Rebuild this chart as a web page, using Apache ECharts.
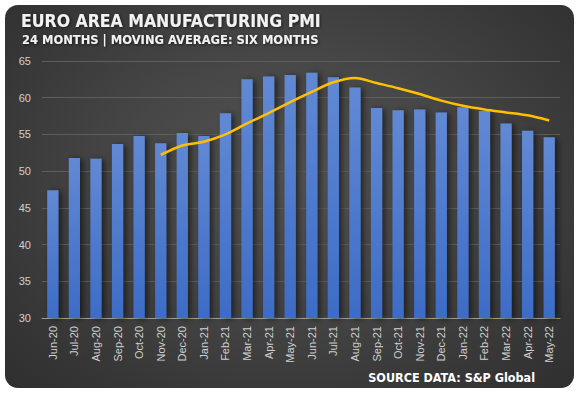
<!DOCTYPE html>
<html>
<head>
<meta charset="utf-8">
<script src="https://cdn.jsdelivr.net/npm/echarts@6/dist/echarts.min.js"></script>
<style>
html,body{margin:0;padding:0;background:#fff;width:577px;height:395px;overflow:hidden}
#panel{position:absolute;left:5px;top:5px;width:569px;height:383px;border-radius:13px;
background:radial-gradient(ellipse at 50% 45%, #545454 0%, #474747 40%, #363636 80%, #2f2f2f 100%);}
#chart{position:absolute;left:0;top:0;width:577px;height:395px}
</style>
</head>
<body>
<div id="panel"></div>
<div id="chart"></div>
<script>
var categories = ['Jun-20','Jul-20','Aug-20','Sep-20','Oct-20','Nov-20','Dec-20','Jan-21','Feb-21','Mar-21','Apr-21','May-21','Jun-21','Jul-21','Aug-21','Sep-21','Oct-21','Nov-21','Dec-21','Jan-22','Feb-22','Mar-22','Apr-22','May-22'];
var pmiValues = [47.4,51.8,51.7,53.7,54.8,53.8,55.2,54.8,57.9,62.5,62.9,63.1,63.4,62.8,61.4,58.6,58.3,58.4,58.0,58.7,58.2,56.5,55.5,54.6];
var movingAvg = [null,null,null,null,null,52.2,53.5,54.0,55.0,56.5,57.9,59.4,60.8,62.1,62.7,62.0,61.3,60.5,59.6,58.9,58.4,58.0,57.6,56.9];
var yTicks = {min:30, max:65, interval:5};

var chart = echarts.init(document.getElementById('chart'), null, {renderer:'svg'});
chart.setOption({
  backgroundColor:'transparent',
  animation:false,
  title:[
    {text:'EURO AREA MANUFACTURING PMI', left:21, top:12, padding:0,
     textStyle:{color:'#f2f2f2', fontFamily:'DejaVu Sans Condensed', fontWeight:'bold', fontSize:17.5,
       textShadowColor:'rgba(0,0,0,0.6)', textShadowBlur:3, textShadowOffsetX:1, textShadowOffsetY:1}},
    {text:'24 MONTHS | MOVING AVERAGE: SIX MONTHS', left:22, top:34, padding:0,
     textStyle:{color:'#f2f2f2', fontFamily:'DejaVu Sans', fontWeight:'bold', fontSize:11.5,
       textShadowColor:'rgba(0,0,0,0.6)', textShadowBlur:3, textShadowOffsetX:1, textShadowOffsetY:1}},
    {text:'SOURCE DATA: S&P Global', right:42, top:371, padding:0,
     textStyle:{color:'#ffffff', fontFamily:'DejaVu Sans Condensed', fontWeight:'bold', fontSize:12.5}}
  ],
  grid:{left:42, right:17, top:61, bottom:77},
  xAxis:{type:'category', data:categories,
    axisLine:{lineStyle:{color:'#a0a0a0', width:1}},
    axisTick:{show:false},
    axisLabel:{rotate:90, color:'#d0d0d0', fontFamily:'Liberation Sans', fontSize:11, margin:8, interval:0}
  },
  yAxis:{type:'value', min:yTicks.min, max:yTicks.max, interval:yTicks.interval,
    axisLine:{show:false}, axisTick:{show:false},
    axisLabel:{color:'#d0d0d0', fontFamily:'Liberation Sans', fontSize:11, margin:11},
    splitLine:{lineStyle:{color:'#5e5e5e', width:1}}
  },
  series:[
    {type:'bar', data:pmiValues, barWidth:'52%',
     itemStyle:{color:new echarts.graphic.LinearGradient(0,0,0,1,[{offset:0,color:'#6189d4'},{offset:1,color:'#3d6cc6'}]),
       shadowColor:'rgba(0,0,0,0.55)', shadowBlur:6, shadowOffsetX:3, shadowOffsetY:1}},
    {type:'line', data:movingAvg, smooth:0.3, showSymbol:false, symbol:'none',
     lineStyle:{color:'#ffc000', width:2.5}, connectNulls:false}
  ]
});
</script>
</body>
</html>
